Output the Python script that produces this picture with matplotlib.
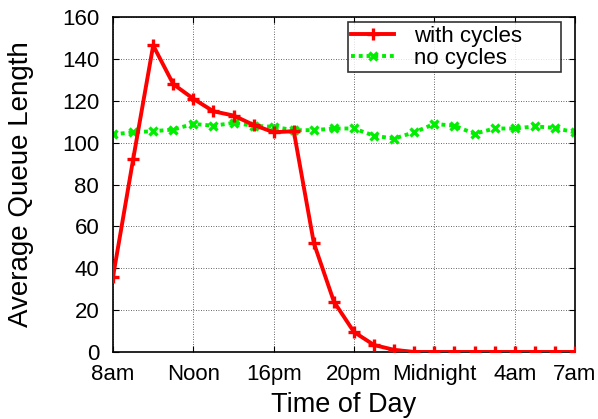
import matplotlib
matplotlib.use("Agg")
import matplotlib.pyplot as plt

plt.rcParams['font.family'] = ['Liberation Sans', 'DejaVu Sans']

hours = list(range(24))
with_cycles = [36, 92, 146.5, 128, 121, 115, 113, 108.5, 105, 105.5, 52, 24, 9.5, 3.3, 1, 0,
               0, 0, 0, 0, 0, 0, 0, 0]
no_cycles = [104, 105, 105.5, 106.3, 109, 108.1, 109.5, 108.1, 107.6, 106, 106, 106.8, 106.8,
             103.3, 102, 105, 109, 108.1, 104.3, 106.8, 106.8, 107.8, 107.1, 104.9]
tick_pos = [0, 4, 8, 12, 16, 20, 23]
tick_labels = ["8am", "Noon", "16pm", "20pm", "Midnight", "4am", "7am"]

fig = plt.figure(figsize=(5.98, 4.19), dpi=100)
ax = fig.add_axes([0.189, 0.160, 0.7725, 0.799])

ax.plot(hours, with_cycles, color="red", lw=2.8, marker="+", ms=8, mew=2.4,
        label="with cycles", zorder=3)
ax.plot(hours, no_cycles, color="#00ee00", lw=2.8, ls=(0, (1, 1)), marker="x", ms=6, mew=2.4,
        label="no cycles", zorder=2)

ax.set_xlim(0, 23)
ax.set_ylim(0, 160)
ax.set_xticks(tick_pos)
ax.set_xticklabels(tick_labels)
ax.set_yticks(range(0, 161, 20))
ax.tick_params(direction="in", top=True, right=True, labelsize=16, length=4)
ax.tick_params(axis="y", pad=10)
ax.tick_params(axis="x", pad=9)
ax.grid(True, color="black", ls=(0, (1, 2)), lw=0.6, alpha=0.8)
for s in ax.spines.values():
    s.set_linewidth(1.2)

ax.set_xlabel("Time of Day", fontsize=19.5, labelpad=5)
ax.set_ylabel("Average Queue Length", fontsize=20, labelpad=20)

leg = ax.legend(loc="upper left", mode="expand", fontsize=16, frameon=True, fancybox=False,
                edgecolor="black", handlelength=1.9, handletextpad=0.9, borderpad=0.15,
                labelspacing=0.05, borderaxespad=0,
                bbox_to_anchor=(0.509, 0.985, 0.461, 0.0))
leg.get_frame().set_linewidth(1.2)

fig.savefig("out.png", dpi=100, facecolor="white")
